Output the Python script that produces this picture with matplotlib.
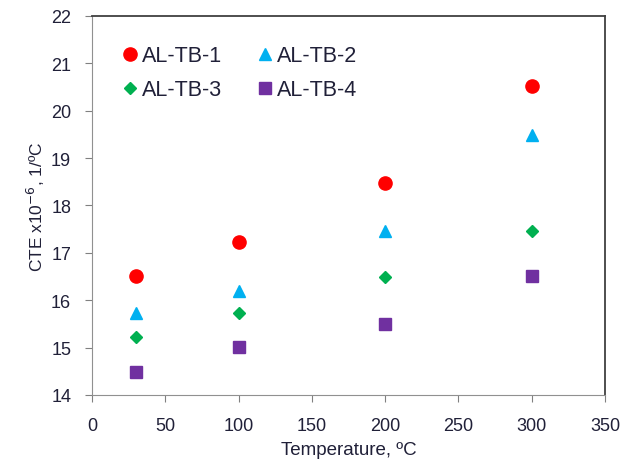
import numpy as np
import matplotlib.pyplot as plt

plt.rcParams['font.family'] = ['Liberation Sans', 'DejaVu Sans']

# Données
temperature = [30, 100, 200, 300]
cte_tb1 = [16.52, 17.22, 18.48, 20.52]
cte_tb2 = [15.72, 16.2, 17.46, 19.48]
cte_tb3 = [15.23, 15.72, 16.5, 17.46]
cte_tb4 = [14.48, 15.02, 15.5, 16.52]
noms = ["AL-TB-1", "AL-TB-2", "AL-TB-3", "AL-TB-4"]

x_ticks = np.arange(0, 351, 50)
y_ticks = np.arange(14, 23, 1)

fig = plt.figure(figsize=(6.23, 4.64), dpi=100)
ax = fig.add_axes([0.1477, 0.1466, 0.8234, 0.8168])

h1, = ax.plot(temperature, cte_tb1, 'o', color='#FF0000', markersize=9.5, label=noms[0])
h2, = ax.plot(temperature, cte_tb2, '^', color='#00B0F0', markersize=9, label=noms[1])
h3, = ax.plot(temperature, cte_tb3, 'D', color='#00B050', markersize=6.5, label=noms[2])
h4, = ax.plot(temperature, cte_tb4, 's', color='#7030A0', markersize=8.5, label=noms[3])

ax.set_xlim(0, 350)
ax.set_ylim(14, 22)
ax.set_xticks(x_ticks)
ax.set_yticks(y_ticks)
ax.tick_params(direction='out', length=5, color='#808080', labelsize=13,
               labelcolor='#202038')
ax.tick_params(axis='x', pad=11)
ax.tick_params(axis='y', pad=10)

for side in ['left', 'bottom']:
    ax.spines[side].set_color('#909090')
for side in ['top', 'right']:
    ax.spines[side].set_color('#404040')
    ax.spines[side].set_linewidth(1.3)

ax.set_xlabel("Temperature, ºC", fontsize=13.5, color='#202038', labelpad=5)
ax.set_ylabel("CTE x10$^{-6}$, 1/ºC", fontsize=12.5, color='#202038', labelpad=3)

# Légende sur deux colonnes (ordre: 1, 3 | 2, 4)
ax.legend([h1, h3, h2, h4], [noms[0], noms[2], noms[1], noms[3]], ncol=2,
          loc='upper left', bbox_to_anchor=(0.053, 0.923), frameon=False,
          fontsize=15.5, handletextpad=0.05, handlelength=1.0,
          columnspacing=1.5, labelspacing=0.6, borderaxespad=0, borderpad=0,
          labelcolor='#202038')

fig.savefig("out.png", dpi=100)
